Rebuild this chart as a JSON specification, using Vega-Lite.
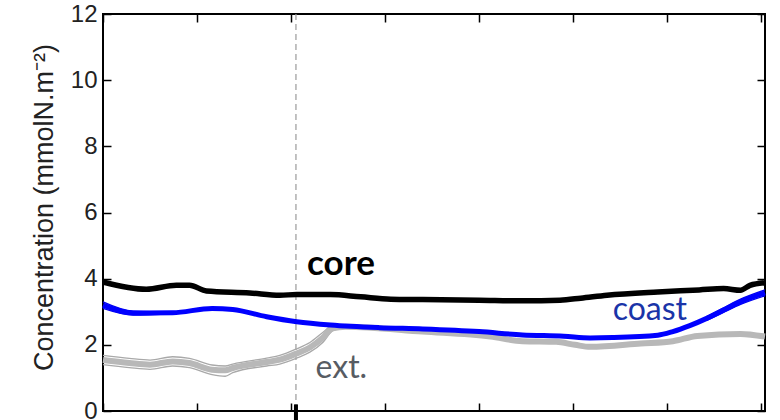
{
  "$schema": "https://vega.github.io/schema/vega-lite/v6.json",
  "width": 662,
  "height": 397,
  "autosize": {"type": "none"},
  "padding": {"left": 103, "top": 14, "right": 15, "bottom": 9},
  "background": "white",
  "config": {
    "font": "Liberation Sans",
    "view": {"stroke": "black", "strokeWidth": 2},
    "axis": {"grid": false, "domain": false, "tickColor": "black", "tickWidth": 1.5, "tickSize": -8, "zindex": 1},
    "axisLeft": {"labelFont": "Liberation Sans", "labelFontSize": 24, "labelColor": "#222222", "labelPadding": 14,
                 "titleFont": "Liberation Sans", "titleFontSize": 27, "titleFontWeight": "normal", "titleColor": "#222222", "titlePadding": 12}
  },
  "datasets": {
    "lines": [
      {"series": "core", "member": "m", "day": 0, "value": 3.9},
      {"series": "core", "member": "m", "day": 23, "value": 3.68},
      {"series": "core", "member": "m", "day": 39, "value": 3.8},
      {"series": "core", "member": "m", "day": 46, "value": 3.8},
      {"series": "core", "member": "m", "day": 55, "value": 3.63},
      {"series": "core", "member": "m", "day": 78, "value": 3.57},
      {"series": "core", "member": "m", "day": 94, "value": 3.5},
      {"series": "core", "member": "m", "day": 103, "value": 3.52},
      {"series": "core", "member": "m", "day": 121, "value": 3.52},
      {"series": "core", "member": "m", "day": 137, "value": 3.45},
      {"series": "core", "member": "m", "day": 153, "value": 3.38},
      {"series": "core", "member": "m", "day": 170, "value": 3.37},
      {"series": "core", "member": "m", "day": 200, "value": 3.35},
      {"series": "core", "member": "m", "day": 223, "value": 3.33},
      {"series": "core", "member": "m", "day": 243, "value": 3.35},
      {"series": "core", "member": "m", "day": 254, "value": 3.41},
      {"series": "core", "member": "m", "day": 268, "value": 3.5},
      {"series": "core", "member": "m", "day": 295, "value": 3.6},
      {"series": "core", "member": "m", "day": 317, "value": 3.66},
      {"series": "core", "member": "m", "day": 330, "value": 3.7},
      {"series": "core", "member": "m", "day": 339, "value": 3.65},
      {"series": "core", "member": "m", "day": 344, "value": 3.8},
      {"series": "core", "member": "m", "day": 352, "value": 3.88},

      {"series": "coast", "member": "m", "day": 0, "value": 3.2},
      {"series": "coast", "member": "m", "day": 16, "value": 2.96},
      {"series": "coast", "member": "m", "day": 37, "value": 2.97},
      {"series": "coast", "member": "m", "day": 58, "value": 3.1},
      {"series": "coast", "member": "m", "day": 69, "value": 3.07},
      {"series": "coast", "member": "m", "day": 87, "value": 2.85},
      {"series": "coast", "member": "m", "day": 103, "value": 2.7},
      {"series": "coast", "member": "m", "day": 121, "value": 2.6},
      {"series": "coast", "member": "m", "day": 147, "value": 2.52},
      {"series": "coast", "member": "m", "day": 170, "value": 2.48},
      {"series": "coast", "member": "m", "day": 200, "value": 2.4},
      {"series": "coast", "member": "m", "day": 223, "value": 2.3},
      {"series": "coast", "member": "m", "day": 245, "value": 2.26},
      {"series": "coast", "member": "m", "day": 259, "value": 2.21},
      {"series": "coast", "member": "m", "day": 271, "value": 2.22},
      {"series": "coast", "member": "m", "day": 295, "value": 2.29},
      {"series": "coast", "member": "m", "day": 303, "value": 2.4},
      {"series": "coast", "member": "m", "day": 312, "value": 2.58},
      {"series": "coast", "member": "m", "day": 321, "value": 2.8},
      {"series": "coast", "member": "m", "day": 330, "value": 3.05},
      {"series": "coast", "member": "m", "day": 339, "value": 3.3},
      {"series": "coast", "member": "m", "day": 352, "value": 3.57},
      {"series": "coast", "member": "hiA", "day": 0, "value": 3.3},
      {"series": "coast", "member": "hiA", "day": 16, "value": 3.02},
      {"series": "coast", "member": "hiA", "day": 37, "value": 3.0},
      {"series": "coast", "member": "loA", "day": 0, "value": 3.1},
      {"series": "coast", "member": "loA", "day": 16, "value": 2.9},
      {"series": "coast", "member": "loA", "day": 37, "value": 2.94},
      {"series": "coast", "member": "hiB", "day": 321, "value": 2.86},
      {"series": "coast", "member": "hiB", "day": 330, "value": 3.12},
      {"series": "coast", "member": "hiB", "day": 339, "value": 3.38},
      {"series": "coast", "member": "hiB", "day": 352, "value": 3.66},
      {"series": "coast", "member": "loB", "day": 321, "value": 2.74},
      {"series": "coast", "member": "loB", "day": 330, "value": 2.98},
      {"series": "coast", "member": "loB", "day": 339, "value": 3.22},
      {"series": "coast", "member": "loB", "day": 352, "value": 3.48},

      {"series": "ext", "member": "m", "day": 0, "value": 1.54},
      {"series": "ext", "member": "m", "day": 14, "value": 1.45},
      {"series": "ext", "member": "m", "day": 25, "value": 1.4},
      {"series": "ext", "member": "m", "day": 37, "value": 1.5},
      {"series": "ext", "member": "m", "day": 46, "value": 1.45},
      {"series": "ext", "member": "m", "day": 58, "value": 1.25},
      {"series": "ext", "member": "m", "day": 65, "value": 1.23},
      {"series": "ext", "member": "m", "day": 69, "value": 1.3},
      {"series": "ext", "member": "m", "day": 87, "value": 1.48},
      {"series": "ext", "member": "m", "day": 94, "value": 1.55},
      {"series": "ext", "member": "m", "day": 103, "value": 1.74},
      {"series": "ext", "member": "m", "day": 110, "value": 1.92},
      {"series": "ext", "member": "m", "day": 117, "value": 2.22},
      {"series": "ext", "member": "m", "day": 122, "value": 2.5},
      {"series": "ext", "member": "m", "day": 129, "value": 2.55},
      {"series": "ext", "member": "m", "day": 170, "value": 2.4},
      {"series": "ext", "member": "m", "day": 206, "value": 2.25},
      {"series": "ext", "member": "m", "day": 223, "value": 2.11},
      {"series": "ext", "member": "m", "day": 241, "value": 2.09},
      {"series": "ext", "member": "m", "day": 251, "value": 2.0},
      {"series": "ext", "member": "m", "day": 259, "value": 1.94},
      {"series": "ext", "member": "m", "day": 286, "value": 2.04},
      {"series": "ext", "member": "m", "day": 303, "value": 2.11},
      {"series": "ext", "member": "m", "day": 316, "value": 2.27},
      {"series": "ext", "member": "m", "day": 339, "value": 2.33},
      {"series": "ext", "member": "m", "day": 352, "value": 2.25},
      {"series": "ext", "member": "hi", "day": 0, "value": 1.68},
      {"series": "ext", "member": "hi", "day": 14, "value": 1.59},
      {"series": "ext", "member": "hi", "day": 25, "value": 1.54},
      {"series": "ext", "member": "hi", "day": 37, "value": 1.64},
      {"series": "ext", "member": "hi", "day": 46, "value": 1.59},
      {"series": "ext", "member": "hi", "day": 58, "value": 1.39},
      {"series": "ext", "member": "hi", "day": 65, "value": 1.36},
      {"series": "ext", "member": "hi", "day": 69, "value": 1.42},
      {"series": "ext", "member": "hi", "day": 87, "value": 1.6},
      {"series": "ext", "member": "hi", "day": 94, "value": 1.68},
      {"series": "ext", "member": "hi", "day": 103, "value": 1.88},
      {"series": "ext", "member": "hi", "day": 110, "value": 2.07},
      {"series": "ext", "member": "hi", "day": 117, "value": 2.38},
      {"series": "ext", "member": "hi", "day": 122, "value": 2.58},
      {"series": "ext", "member": "hi", "day": 129, "value": 2.57},
      {"series": "ext", "member": "lo", "day": 0, "value": 1.4},
      {"series": "ext", "member": "lo", "day": 14, "value": 1.31},
      {"series": "ext", "member": "lo", "day": 25, "value": 1.26},
      {"series": "ext", "member": "lo", "day": 37, "value": 1.36},
      {"series": "ext", "member": "lo", "day": 46, "value": 1.31},
      {"series": "ext", "member": "lo", "day": 58, "value": 1.1},
      {"series": "ext", "member": "lo", "day": 65, "value": 1.05},
      {"series": "ext", "member": "lo", "day": 69, "value": 1.16},
      {"series": "ext", "member": "lo", "day": 87, "value": 1.36},
      {"series": "ext", "member": "lo", "day": 94, "value": 1.42},
      {"series": "ext", "member": "lo", "day": 103, "value": 1.6},
      {"series": "ext", "member": "lo", "day": 110, "value": 1.78},
      {"series": "ext", "member": "lo", "day": 117, "value": 2.08},
      {"series": "ext", "member": "lo", "day": 122, "value": 2.42},
      {"series": "ext", "member": "lo", "day": 129, "value": 2.52}
    ],
    "labels": [
      {"series": "core", "label": "core", "day": 108.5, "value": 4.11},
      {"series": "coast", "label": "coast", "day": 271, "value": 2.75},
      {"series": "ext", "label": "ext.", "day": 113, "value": 1.0}
    ],
    "events": [
      {"day": 102.6}
    ]
  },
  "resolve": {"axis": {"x": "independent", "y": "independent"}},
  "layer": [
    {
      "data": {"name": "lines"},
      "mark": {"type": "point", "opacity": 0},
      "encoding": {
        "x": {"field": "day", "type": "quantitative", "scale": {"domain": [0, 352], "nice": false},
              "axis": {"orient": "top", "labels": false, "title": null, "values": [0, 50, 100, 150, 200, 250, 300, 350]}},
        "y": {"field": "value", "type": "quantitative", "scale": {"domain": [0, 12], "nice": false},
              "axis": {"orient": "right", "labels": false, "title": null, "values": [0, 2, 4, 6, 8, 10, 12]}}
      }
    },
    {
      "data": {"name": "events"},
      "mark": {"type": "rule", "color": "#9a9a9a", "strokeWidth": 1.2, "strokeDash": [6, 4]},
      "encoding": {
        "x": {"field": "day", "type": "quantitative", "axis": null}
      }
    },
    {
      "data": {"name": "lines"},
      "transform": [{"filter": "datum.series === 'ext' && datum.member !== 'm'"}],
      "mark": {"type": "line", "color": "#a9a9a9", "strokeWidth": 1.3, "interpolate": "monotone"},
      "encoding": {
        "x": {"field": "day", "type": "quantitative", "axis": null},
        "y": {"field": "value", "type": "quantitative", "axis": null},
        "detail": {"field": "member"}
      }
    },
    {
      "data": {"name": "lines"},
      "transform": [{"filter": "datum.series === 'ext' && datum.member === 'm'"}],
      "mark": {"type": "line", "color": "#b8b8b8", "strokeWidth": 6, "interpolate": "monotone"},
      "encoding": {
        "x": {"field": "day", "type": "quantitative", "axis": null},
        "y": {"field": "value", "type": "quantitative", "axis": null}
      }
    },
    {
      "data": {"name": "lines"},
      "transform": [{"filter": "datum.series === 'coast' && datum.member !== 'm'"}],
      "mark": {"type": "line", "color": "#0000ee", "strokeWidth": 1.3, "interpolate": "monotone"},
      "encoding": {
        "x": {"field": "day", "type": "quantitative", "axis": null},
        "y": {"field": "value", "type": "quantitative", "axis": null},
        "detail": {"field": "member"}
      }
    },
    {
      "data": {"name": "lines"},
      "transform": [{"filter": "datum.series === 'coast' && datum.member === 'm'"}],
      "mark": {"type": "line", "color": "#0000ff", "strokeWidth": 5, "interpolate": "monotone"},
      "encoding": {
        "x": {"field": "day", "type": "quantitative", "axis": null},
        "y": {"field": "value", "type": "quantitative", "axis": null}
      }
    },
    {
      "data": {"name": "lines"},
      "transform": [{"filter": "datum.series === 'core'"}],
      "mark": {"type": "line", "color": "black", "strokeWidth": 5.5, "interpolate": "monotone"},
      "encoding": {
        "x": {"field": "day", "type": "quantitative",
              "axis": {"orient": "bottom", "labels": false, "title": null, "values": [0, 50, 100, 150, 200, 250, 300, 350]}},
        "y": {"field": "value", "type": "quantitative",
              "axis": {"orient": "left", "values": [0, 2, 4, 6, 8, 10, 12], "labelFontSize": 24, "titleFontSize": 27,
                       "titleY": 193, "title": "Concentration (mmolN.m⁻²)"}}
      }
    },
    {
      "data": {"name": "events"},
      "mark": {"type": "rule", "color": "black", "strokeWidth": 4},
      "encoding": {
        "x": {"field": "day", "type": "quantitative", "axis": null},
        "y": {"datum": 0.2, "type": "quantitative", "axis": null},
        "y2": {"datum": -0.5}
      }
    },
    {
      "data": {"name": "labels"},
      "transform": [{"filter": "datum.series === 'core'"}],
      "mark": {"type": "text", "align": "left", "baseline": "alphabetic", "font": "Lato", "fontSize": 35, "fontWeight": "bold", "color": "black"},
      "encoding": {
        "x": {"field": "day", "type": "quantitative", "axis": null},
        "y": {"field": "value", "type": "quantitative", "axis": null},
        "text": {"field": "label"}
      }
    },
    {
      "data": {"name": "labels"},
      "transform": [{"filter": "datum.series !== 'core'"}],
      "mark": {"type": "text", "align": "left", "baseline": "alphabetic", "font": "Lato", "fontSize": 32},
      "encoding": {
        "x": {"field": "day", "type": "quantitative", "axis": null},
        "y": {"field": "value", "type": "quantitative", "axis": null},
        "text": {"field": "label"},
        "color": {"field": "series", "type": "nominal", "scale": {"domain": ["coast", "ext"], "range": ["#1a34a8", "#575c63"]}, "legend": null}
      }
    }
  ]
}
